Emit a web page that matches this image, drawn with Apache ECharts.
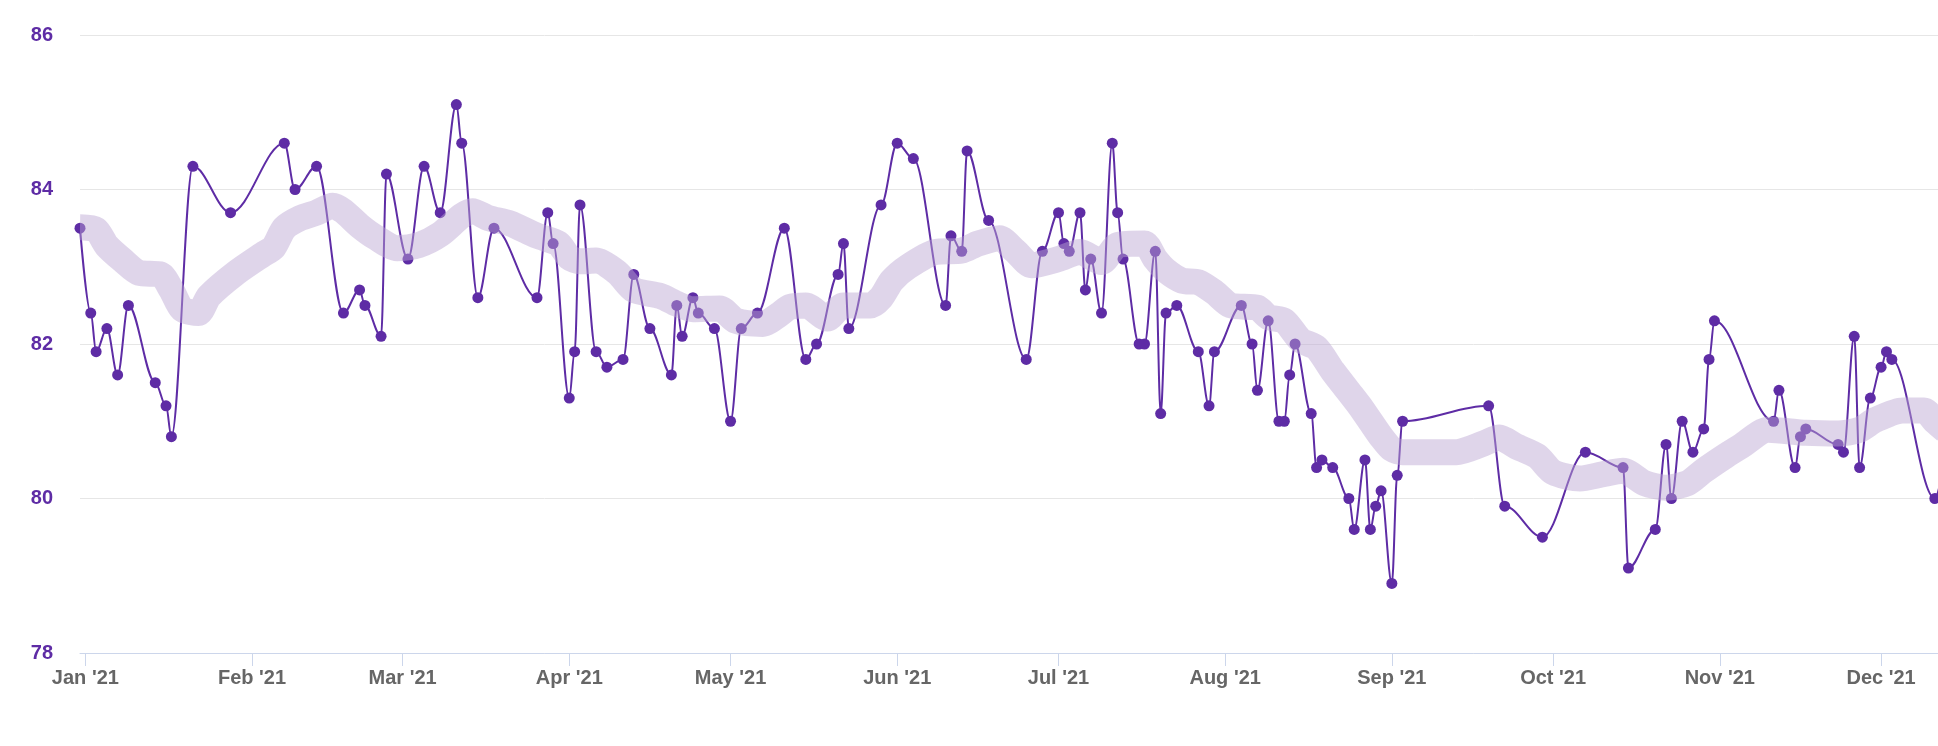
<!DOCTYPE html>
<html>
<head>
<meta charset="utf-8">
<script src="https://cdn.jsdelivr.net/npm/echarts@6/dist/echarts.min.js"></script>
<style>
  html, body { margin: 0; padding: 0; background: #ffffff; }
  #chart { width: 1938px; height: 746px; }
</style>
</head>
<body>
<div id="chart"></div>
<script>
// ---- data ----
const pointDates = [
  '2020-12-31','2021-01-02','2021-01-03','2021-01-05','2021-01-07','2021-01-09','2021-01-14','2021-01-16','2021-01-17','2021-01-21',
  '2021-01-28','2021-02-07','2021-02-09','2021-02-13','2021-02-18','2021-02-21','2021-02-22','2021-02-25','2021-02-26','2021-03-02',
  '2021-03-05','2021-03-08','2021-03-11','2021-03-12','2021-03-15','2021-03-18','2021-03-26','2021-03-28','2021-03-29','2021-04-01',
  '2021-04-02','2021-04-03','2021-04-06','2021-04-08','2021-04-11','2021-04-13','2021-04-16','2021-04-20','2021-04-21','2021-04-22',
  '2021-04-24','2021-04-25','2021-04-28','2021-05-01','2021-05-03','2021-05-06','2021-05-11','2021-05-15','2021-05-17','2021-05-21',
  '2021-05-22','2021-05-23','2021-05-29','2021-06-01','2021-06-04','2021-06-10','2021-06-11','2021-06-13','2021-06-14','2021-06-18',
  '2021-06-25','2021-06-28','2021-07-01','2021-07-02','2021-07-03','2021-07-05','2021-07-06','2021-07-07','2021-07-09','2021-07-11',
  '2021-07-12','2021-07-13','2021-07-16','2021-07-17','2021-07-19','2021-07-20','2021-07-21','2021-07-23','2021-07-27','2021-07-29',
  '2021-07-30','2021-08-04','2021-08-06','2021-08-07','2021-08-09','2021-08-11','2021-08-12','2021-08-13','2021-08-14','2021-08-17',
  '2021-08-18','2021-08-19','2021-08-21','2021-08-24','2021-08-25','2021-08-27','2021-08-28','2021-08-29','2021-08-30','2021-09-01',
  '2021-09-02','2021-09-03','2021-09-19','2021-09-22','2021-09-29','2021-10-07','2021-10-14','2021-10-15','2021-10-20','2021-10-22',
  '2021-10-23','2021-10-25','2021-10-27','2021-10-29','2021-10-30','2021-10-31','2021-11-11','2021-11-12','2021-11-15','2021-11-16',
  '2021-11-17','2021-11-23','2021-11-24','2021-11-26','2021-11-27','2021-11-29','2021-12-01','2021-12-02','2021-12-03','2021-12-11',
  '2021-12-13'
];
const pointValues = [
  83.5, 82.4, 81.9, 82.2, 81.6, 82.5, 81.5, 81.2, 80.8, 84.3,
  83.7, 84.6, 84.0, 84.3, 82.4, 82.7, 82.5, 82.1, 84.2, 83.1,
  84.3, 83.7, 85.1, 84.6, 82.6, 83.5, 82.6, 83.7, 83.3, 81.3,
  81.9, 83.8, 81.9, 81.7, 81.8, 82.9, 82.2, 81.6, 82.5, 82.1,
  82.6, 82.4, 82.2, 81.0, 82.2, 82.4, 83.5, 81.8, 82.0, 82.9,
  83.3, 82.2, 83.8, 84.6, 84.4, 82.5, 83.4, 83.2, 84.5, 83.6,
  81.8, 83.2, 83.7, 83.3, 83.2, 83.7, 82.7, 83.1, 82.4, 84.6,
  83.7, 83.1, 82.0, 82.0, 83.2, 81.1, 82.4, 82.5, 81.9, 81.2,
  81.9, 82.5, 82.0, 81.4, 82.3, 81.0, 81.0, 81.6, 82.0, 81.1,
  80.4, 80.5, 80.4, 80.0, 79.6, 80.5, 79.6, 79.9, 80.1, 78.9,
  80.3, 81.0, 81.2, 79.9, 79.5, 80.6, 80.4, 79.1, 79.6, 80.7,
  80.0, 81.0, 80.6, 80.9, 81.8, 82.3, 81.0, 81.4, 80.4, 80.8,
  80.9, 80.7, 80.6, 82.1, 80.4, 81.3, 81.7, 81.9, 81.8, 80.0,
  80.6
];
const trendDates = [
  '2020-12-31','2021-01-03','2021-01-05','2021-01-08','2021-01-11','2021-01-15','2021-01-17','2021-01-19','2021-01-22','2021-01-24',
  '2021-01-29','2021-02-03','2021-02-05','2021-02-07','2021-02-10','2021-02-13','2021-02-16','2021-02-18','2021-02-21','2021-02-24',
  '2021-02-28','2021-03-04','2021-03-08','2021-03-12','2021-03-14','2021-03-17','2021-03-21','2021-03-26','2021-03-30','2021-04-01',
  '2021-04-03','2021-04-06','2021-04-10','2021-04-13','2021-04-18','2021-04-21','2021-04-24','2021-04-29','2021-05-02','2021-05-07',
  '2021-05-10','2021-05-12','2021-05-15','2021-05-19','2021-05-22','2021-05-27','2021-05-29','2021-05-31','2021-06-03','2021-06-08',
  '2021-06-13','2021-06-16','2021-06-20','2021-06-23','2021-06-26','2021-07-01','2021-07-05','2021-07-09','2021-07-12','2021-07-17',
  '2021-07-19','2021-07-21','2021-07-24','2021-07-27','2021-07-30','2021-08-02','2021-08-07','2021-08-09','2021-08-12','2021-08-15',
  '2021-08-18','2021-08-21','2021-08-24','2021-08-26','2021-08-28','2021-08-30','2021-09-01','2021-09-03','2021-09-13','2021-09-18',
  '2021-09-21','2021-09-24','2021-09-28','2021-10-01','2021-10-06','2021-10-10','2021-10-14','2021-10-18','2021-10-22','2021-10-26',
  '2021-10-29','2021-11-02','2021-11-05','2021-11-10','2021-11-17','2021-11-23','2021-11-27','2021-11-30','2021-12-05','2021-12-09',
  '2021-12-11','2021-12-13'
];
const trendValues = [
  83.51, 83.48, 83.27, 83.08, 82.92, 82.9, 82.7, 82.45, 82.4, 82.62,
  82.92, 83.16, 83.25, 83.5, 83.63, 83.7, 83.79, 83.72, 83.53, 83.38,
  83.24, 83.28, 83.42, 83.66, 83.72, 83.63, 83.56, 83.4, 83.3, 83.12,
  83.07, 83.08, 82.92, 82.7, 82.62, 82.52, 82.45, 82.46, 82.3, 82.26,
  82.38, 82.48, 82.5, 82.33, 82.5, 82.5, 82.6, 82.82, 83.0, 83.19,
  83.21, 83.3, 83.37, 83.2, 83.02, 83.1, 83.19, 83.06, 83.28, 83.3,
  83.1, 82.95, 82.82, 82.8, 82.67, 82.5, 82.47, 82.35, 82.3, 82.05,
  81.95, 81.65, 81.38, 81.2, 81.0, 80.8, 80.64, 80.6, 80.6, 80.71,
  80.79, 80.68, 80.55, 80.34, 80.26, 80.31, 80.36, 80.2, 80.14, 80.2,
  80.36, 80.55, 80.68, 80.89, 80.85, 80.84, 80.89, 81.02, 81.14, 81.14,
  81.0, 80.88
];
const monthTicks = [
  '2021-01-01','2021-02-01','2021-03-01','2021-04-01','2021-05-01','2021-06-01',
  '2021-07-01','2021-08-01','2021-09-01','2021-10-01','2021-11-01','2021-12-01'
];
const monthNames = ['Jan','Feb','Mar','Apr','May','Jun','Jul','Aug','Sep','Oct','Nov','Dec'];
const yTicks = [78, 80, 82, 84, 86];
const xMin = '2020-12-31';
const xMax = '2021-12-11T14:00:00';

// ---- helpers ----
function toTime(s) {
  const [datePart, timePart] = s.split('T');
  const [y, m, d] = datePart.split('-').map(Number);
  let h = 0, mi = 0;
  if (timePart) { const p = timePart.split(':').map(Number); h = p[0]; mi = p[1]; }
  return new Date(y, m - 1, d, h, mi).getTime();
}
const lineData = pointDates.map((d, i) => [toTime(d), pointValues[i]]);
const trendData = trendDates.map((d, i) => [toTime(d), trendValues[i]]);
const tickTimes = monthTicks.map(toTime);

const chart = echarts.init(document.getElementById('chart'), null, { renderer: 'canvas' });
const font = '"Liberation Sans", Arial, Helvetica, sans-serif';

chart.setOption({
  animation: false,
  backgroundColor: '#ffffff',
  grid: { left: 80, right: 0, top: 35, bottom: 93, containLabel: false },
  xAxis: {
    type: 'value',
    min: toTime(xMin),
    max: toTime(xMax),
    axisLine: { show: true, lineStyle: { color: '#ccd6eb', width: 1 } },
    axisTick: { show: true, length: 13, lineStyle: { color: '#ccd6eb', width: 1 }, customValues: tickTimes },
    axisLabel: {
      customValues: tickTimes,
      color: '#666666',
      fontFamily: font,
      fontWeight: 'bold',
      fontSize: 20,
      margin: 15,
      formatter: function (v) {
        const d = new Date(v);
        return monthNames[d.getMonth()] + " '" + String(d.getFullYear()).slice(2);
      }
    },
    splitLine: { show: false }
  },
  yAxis: {
    type: 'value',
    min: yTicks[0],
    max: yTicks[yTicks.length - 1],
    interval: 2,
    axisLine: { show: false },
    axisTick: { show: false },
    axisLabel: {
      color: '#5e2ca5',
      fontFamily: font,
      fontWeight: 'bold',
      fontSize: 20,
      margin: 27
    },
    splitLine: { show: true, lineStyle: { color: '#e6e6e6', width: 1 } }
  },
  series: [
    {
      name: 'Daily',
      type: 'line',
      data: lineData,
      smooth: 0.35,
      smoothMonotone: 'x',
      clip: true,
      showSymbol: true,
      showAllSymbol: true,
      symbol: 'circle',
      symbolSize: 11,
      lineStyle: { color: '#5e2ca5', width: 2 },
      itemStyle: { color: '#5e2ca5', borderWidth: 0 },
      emphasis: { disabled: true },
      z: 2
    },
    {
      name: 'Trend',
      type: 'line',
      data: trendData,
      smooth: 0.25,
      clip: true,
      showSymbol: false,
      lineStyle: { color: 'rgba(187,166,210,0.47)', width: 26, cap: 'butt', join: 'round' },
      emphasis: { disabled: true },
      z: 3
    }
  ]
});
</script>
</body>
</html>
